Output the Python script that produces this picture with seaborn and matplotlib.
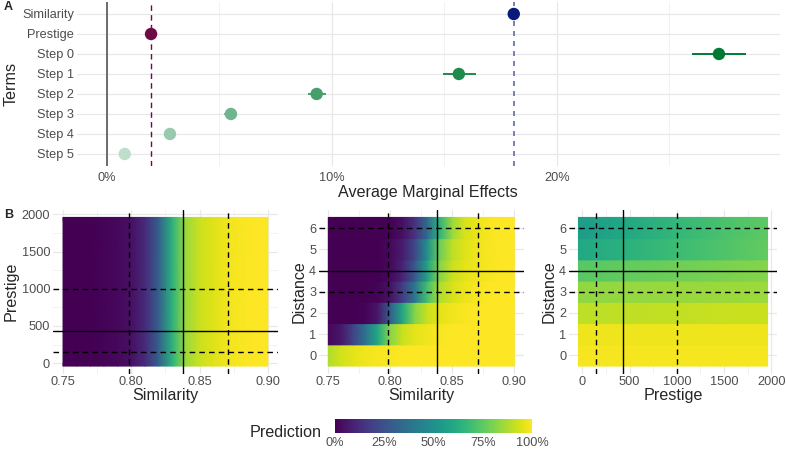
import numpy as np
import pandas as pd
import seaborn as sns
import matplotlib.pyplot as plt
from matplotlib.colors import to_rgb
from matplotlib.ticker import FixedLocator, FuncFormatter

# ---- panel A data: average marginal effects ----
terms = ["Similarity", "Prestige", "Step 0", "Step 1", "Step 2", "Step 3", "Step 4", "Step 5"]
ame = [0.1808, 0.0196, 0.272, 0.1564, 0.0932, 0.0551, 0.0280, 0.0079]
ame_lo = [0.1808, 0.0196, 0.2600, 0.1495, 0.0892, 0.0522, 0.0265, 0.0070]
ame_hi = [0.1808, 0.0196, 0.2840, 0.1639, 0.0972, 0.0580, 0.0295, 0.0088]

# ---- panel B data: predictions ----
sim_grid = [0.75, 0.76, 0.77, 0.78, 0.79, 0.80, 0.81, 0.82,
            0.83, 0.84, 0.85, 0.86, 0.87, 0.88, 0.89, 0.90]
pred_sim_prestige = [0.0, 0.0, 0.0, 0.01, 0.02, 0.04, 0.12, 0.30,
                     0.64, 0.85, 0.92, 0.95, 0.98, 0.99, 1.0, 1.0]
# rows: distance 0..6
pred_sim_distance = [
    [0.88, 0.93, 0.96, 0.98, 0.99, 0.99, 1.0, 1.0, 1.0, 1.0, 1.0, 1.0, 1.0, 1.0, 1.0, 1.0],
    [0.02, 0.06, 0.20, 0.38, 0.60, 0.82, 0.92, 0.96, 0.98, 0.99, 1.0, 1.0, 1.0, 1.0, 1.0, 1.0],
    [0.0, 0.0, 0.0, 0.01, 0.06, 0.30, 0.60, 0.82, 0.92, 0.96, 0.98, 0.99, 1.0, 1.0, 1.0, 1.0],
    [0.0, 0.0, 0.0, 0.0, 0.01, 0.05, 0.18, 0.40, 0.70, 0.88, 0.94, 0.97, 0.99, 1.0, 1.0, 1.0],
    [0.0, 0.0, 0.0, 0.0, 0.0, 0.02, 0.10, 0.28, 0.58, 0.82, 0.92, 0.96, 0.98, 0.99, 1.0, 1.0],
    [0.0, 0.0, 0.0, 0.0, 0.0, 0.02, 0.08, 0.22, 0.50, 0.78, 0.90, 0.95, 0.98, 0.99, 1.0, 1.0],
    [0.0, 0.0, 0.0, 0.0, 0.0, 0.0, 0.04, 0.15, 0.35, 0.65, 0.85, 0.94, 0.97, 0.99, 1.0, 1.0],
]
prestige_grid = [-40, 460, 960, 1460, 1960]
pred_prestige_distance = [
    [0.985, 0.985, 0.985, 0.985, 0.985],
    [0.975, 0.975, 0.975, 0.975, 0.975],
    [0.90, 0.905, 0.91, 0.915, 0.92],
    [0.835, 0.84, 0.845, 0.85, 0.855],
    [0.74, 0.76, 0.78, 0.80, 0.82],
    [0.60, 0.64, 0.68, 0.72, 0.76],
    [0.55, 0.60, 0.66, 0.71, 0.75],
]
sim_mean, sim_lo, sim_hi = 0.838, 0.798, 0.871
prest_mean, prest_lo, prest_hi = 430, 150, 1000
dist_mean, dist_lo, dist_hi = 4, 3, 6

sns.set_theme(style="whitegrid")
plt.rcParams['font.family'] = ['Liberation Sans', 'DejaVu Sans']
plt.rcParams['grid.color'] = '#ebebeb'
plt.rcParams['axes.edgecolor'] = 'white'

TICK = 9.2
TITLE = 11.6
GREEN = "#007a33"
NAVY = "#0a1a7a"
MAROON = "#6e0a45"
step_alpha = [1.0, 0.88, 0.72, 0.56, 0.40, 0.25]


def blend(c, a):
    r = np.array(to_rgb(c))
    return tuple(a * r + (1 - a) * np.ones(3))


colors = {"Similarity": NAVY, "Prestige": MAROON}
for i, a in enumerate(step_alpha):
    colors[f"Step {i}"] = blend(GREEN, a)

fig = plt.figure(figsize=(7.86, 4.51), dpi=100)

# ---------------- panel A ----------------
axA = fig.add_axes([0.098, 0.632, 0.894, 0.3636])
df = pd.DataFrame({"term": terms, "ame": ame, "lo": ame_lo, "hi": ame_hi})
df["pos"] = np.arange(len(terms))

axA.axvline(0, color="#555555", lw=1.2, zorder=1)
axA.axvline(ame[1], color=MAROON, lw=1.0, ls=(0, (4, 3)), zorder=1)
axA.axvline(ame[0], color=blend(NAVY, 0.65), lw=1.2, ls=(0, (3, 3)), zorder=1)
axA.hlines(df["pos"], df["lo"], df["hi"], colors=[colors[t] for t in terms], lw=1.4, zorder=2)
sns.scatterplot(data=df, x="ame", y="pos", hue="term", palette=colors, s=80,
                linewidth=0, legend=False, ax=axA, zorder=3)
axA.set_ylim(len(terms) - 0.4, -0.6)
axA.set_yticks(df["pos"])
axA.set_yticklabels(terms)
axA.set_xlim(-0.0133, 0.299)
axA.set_xticks([0, 0.1, 0.2])
axA.xaxis.set_minor_locator(FixedLocator([0.05, 0.15, 0.25]))
axA.xaxis.set_major_formatter(FuncFormatter(lambda v, p: f"{v * 100:.0f}%"))
axA.grid(True, which="major", color="#e8e8e8", lw=0.9)
axA.grid(True, which="minor", axis="x", color="#f2f2f2", lw=0.7)
axA.set_ylabel("Terms", fontsize=TITLE, labelpad=3)
axA.set_xlabel("Average Marginal Effects", fontsize=TITLE, labelpad=1)
axA.tick_params(axis="both", labelsize=TICK, colors="#4d4d4d", length=0, pad=2)
axA.tick_params(axis="x", pad=4)
for sp in axA.spines.values():
    sp.set_visible(False)

# ---------------- panel B ----------------
bot, h = 0.1718, 0.3626
ax1 = fig.add_axes([52.8 / 786, bot, (278 - 52.8) / 786, h])
ax2 = fig.add_axes([319 / 786, bot, (523.6 - 319) / 786, h])
ax3 = fig.add_axes([569 / 786, bot, (777 - 569) / 786, h])

kw = dict(cmap="viridis", vmin=0, vmax=1, shading="gouraud", rasterized=True)
mesh = ax1.pcolormesh(sim_grid, [prestige_grid[0], prestige_grid[-1]],
                      [pred_sim_prestige, pred_sim_prestige], **kw)
for d, row in enumerate(pred_sim_distance):
    ax2.pcolormesh(sim_grid, [d - 0.5, d + 0.5], [row, row], **kw)
for d, row in enumerate(pred_prestige_distance):
    ax3.pcolormesh(prestige_grid, [d - 0.5, d + 0.5], [row, row], **kw)

line_solid = dict(color="black", lw=1.0)
line_dash = dict(color="black", lw=1.0, ls=(0, (4, 3)))

# Similarity x Prestige
ax1.axvline(sim_mean, **line_solid)
ax1.axvline(sim_lo, **line_dash)
ax1.axvline(sim_hi, **line_dash)
ax1.axhline(prest_mean, **line_solid)
ax1.axhline(prest_lo, **line_dash)
ax1.axhline(prest_hi, **line_dash)
ax1.set_xlim(0.7425, 0.9075)
ax1.set_ylim(-140, 2060)
ax1.set_xticks([0.75, 0.80, 0.85, 0.90])
ax1.set_xticklabels(["0.75", "0.80", "0.85", "0.90"])
ax1.set_yticks([0, 500, 1000, 1500, 2000])
ax1.xaxis.set_minor_locator(FixedLocator([0.775, 0.825, 0.875]))
ax1.yaxis.set_minor_locator(FixedLocator([250, 750, 1250, 1750]))
ax1.set_xlabel("Similarity", fontsize=TITLE, labelpad=0)
ax1.set_ylabel("Prestige", fontsize=TITLE, labelpad=2)

# Similarity x Distance
ax2.axvline(sim_mean, **line_solid)
ax2.axvline(sim_lo, **line_dash)
ax2.axvline(sim_hi, **line_dash)
ax2.axhline(dist_mean, **line_solid)
ax2.axhline(dist_lo, **line_dash)
ax2.axhline(dist_hi, **line_dash)
ax2.set_xlim(0.7425, 0.9075)
ax2.set_ylim(-0.85, 6.85)
ax2.set_xticks([0.75, 0.80, 0.85, 0.90])
ax2.set_xticklabels(["0.75", "0.80", "0.85", "0.90"])
ax2.set_yticks(range(7))
ax2.xaxis.set_minor_locator(FixedLocator([0.775, 0.825, 0.875]))
ax2.set_xlabel("Similarity", fontsize=TITLE, labelpad=0)
ax2.set_ylabel("Distance", fontsize=TITLE, labelpad=2)

# Prestige x Distance
ax3.axvline(prest_mean, **line_solid)
ax3.axvline(prest_lo, **line_dash)
ax3.axvline(prest_hi, **line_dash)
ax3.axhline(dist_mean, **line_solid)
ax3.axhline(dist_lo, **line_dash)
ax3.axhline(dist_hi, **line_dash)
ax3.set_xlim(-140, 2060)
ax3.set_ylim(-0.85, 6.85)
ax3.set_xticks([0, 500, 1000, 1500, 2000])
ax3.set_yticks(range(7))
ax3.xaxis.set_minor_locator(FixedLocator([250, 750, 1250, 1750]))
ax3.set_xlabel("Prestige", fontsize=TITLE, labelpad=0)
ax3.set_ylabel("Distance", fontsize=TITLE, labelpad=2)

for ax in (ax1, ax2, ax3):
    ax.set_axisbelow(True)
    ax.grid(True, which="major", color="#e8e8e8", lw=0.9)
    ax.grid(True, which="minor", color="#f2f2f2", lw=0.7)
    ax.tick_params(axis="both", labelsize=TICK, colors="#4d4d4d", length=0, pad=2)
    for sp in ax.spines.values():
        sp.set_visible(False)

# colorbar
cax = fig.add_axes([335 / 786, 18 / 451, 197 / 786, 14 / 451])
cb = fig.colorbar(mesh, cax=cax, orientation="horizontal")
cb.outline.set_visible(False)
cb.set_ticks([0, 0.25, 0.5, 0.75, 1.0])
cb.set_ticklabels(["0%", "25%", "50%", "75%", "100%"])
cax.tick_params(axis="x", direction="in", color="white", length=3, width=0.8,
                labelsize=TICK, labelcolor="#4d4d4d", pad=3, top=True)
fig.text(322 / 786, 11 / 451, "Prediction", fontsize=TITLE, ha="right", va="bottom")

fig.text(4 / 786, 1 - 7 / 451, "A", fontsize=9, fontweight="bold", va="center")
fig.text(4 / 786, 1 - 215 / 451, "B", fontsize=9, fontweight="bold", va="center")

fig.savefig("out.png", dpi=100)
